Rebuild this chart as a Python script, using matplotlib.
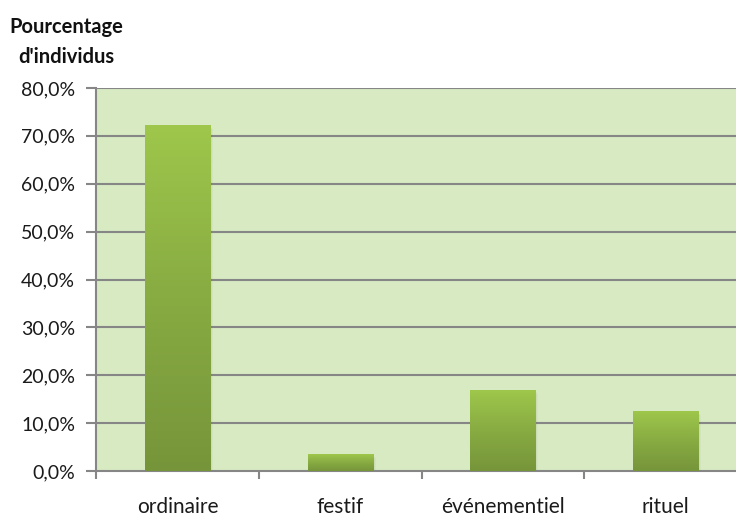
import numpy as np
import matplotlib
matplotlib.use("Agg")
import matplotlib.pyplot as plt
from matplotlib.patches import Rectangle
from matplotlib.colors import LinearSegmentedColormap

categories = ["ordinaire", "festif", "événementiel", "rituel"]
values = [72.2, 3.5, 16.9, 12.5]
yticks = [0, 10, 20, 30, 40, 50, 60, 70, 80]
ytick_labels = ["0,0%", "10,0%", "20,0%", "30,0%", "40,0%", "50,0%", "60,0%", "70,0%", "80,0%"]

plt.rcParams["font.family"] = ["Lato", "DejaVu Sans"]

W, H = 736, 520
fig = plt.figure(figsize=(W / 100, H / 100), dpi=100)
# plot area runs slightly past the right edge of the canvas
left, right, top, bottom = 96, 747, 88, 471
ax = fig.add_axes([left / W, 1 - bottom / H, (right - left) / W, (bottom - top) / H])

ax.set_facecolor("#d7eac2")
ax.set_xlim(0, len(categories))
ax.set_ylim(0, 80)

grid_col = "#868686"
for y in yticks[1:]:
    ax.axhline(y, color=grid_col, lw=1.5, zorder=1)

cmap = LinearSegmentedColormap.from_list("bar", ["#76953a", "#88ab42", "#9ec74b"])
grad = np.linspace(0, 1, 256).reshape(-1, 1)
bw = 0.4
for i, v in enumerate(values):
    x0 = i + 0.5 - bw / 2
    # soft drop shadow
    for k, a in enumerate([0.06, 0.05, 0.04]):
        d = 0.006 * (k + 1)
        ax.add_patch(Rectangle((x0 + d * 0.6, -0.3 * (k + 1)), bw + d * 0.4, v + 0.1,
                               facecolor="#555555", edgecolor="none", alpha=a, zorder=2))
    rect = Rectangle((x0, 0), bw, v, facecolor="none", edgecolor="none", zorder=3)
    ax.add_patch(rect)
    im = ax.imshow(grad, cmap=cmap, aspect="auto", origin="lower",
                   extent=(x0, x0 + bw, 0, v), zorder=3, interpolation="bilinear")
    im.set_clip_path(rect)

ax.set_xlim(0, len(categories))
ax.set_ylim(0, 80)

ax.set_yticks(yticks)
ax.set_yticklabels(ytick_labels)
ax.set_xticks(np.arange(len(categories)) + 0.5)
ax.set_xticklabels(categories)
ax.set_xticks(np.arange(len(categories) + 1), minor=True)

ax.tick_params(axis="y", length=7, width=1.5, color=grid_col, pad=8, labelsize=14, labelcolor="#1a1a1a")
ax.tick_params(axis="x", which="major", length=0, pad=19, labelsize=15, labelcolor="#1a1a1a")
ax.tick_params(axis="x", which="minor", length=6, width=1.5, color=grid_col)

for s in ["top", "right"]:
    ax.spines[s].set_visible(False)
for s in ["left", "bottom"]:
    ax.spines[s].set_color(grid_col)
    ax.spines[s].set_linewidth(1.5)

fig.text(66 / W, 1 - 42 / H, "Pourcentage\nd'individus", ha="center", va="center",
         fontsize=14.5, fontweight="bold", linespacing=1.6, color="#111111")

fig.savefig("out.png", dpi=100)
